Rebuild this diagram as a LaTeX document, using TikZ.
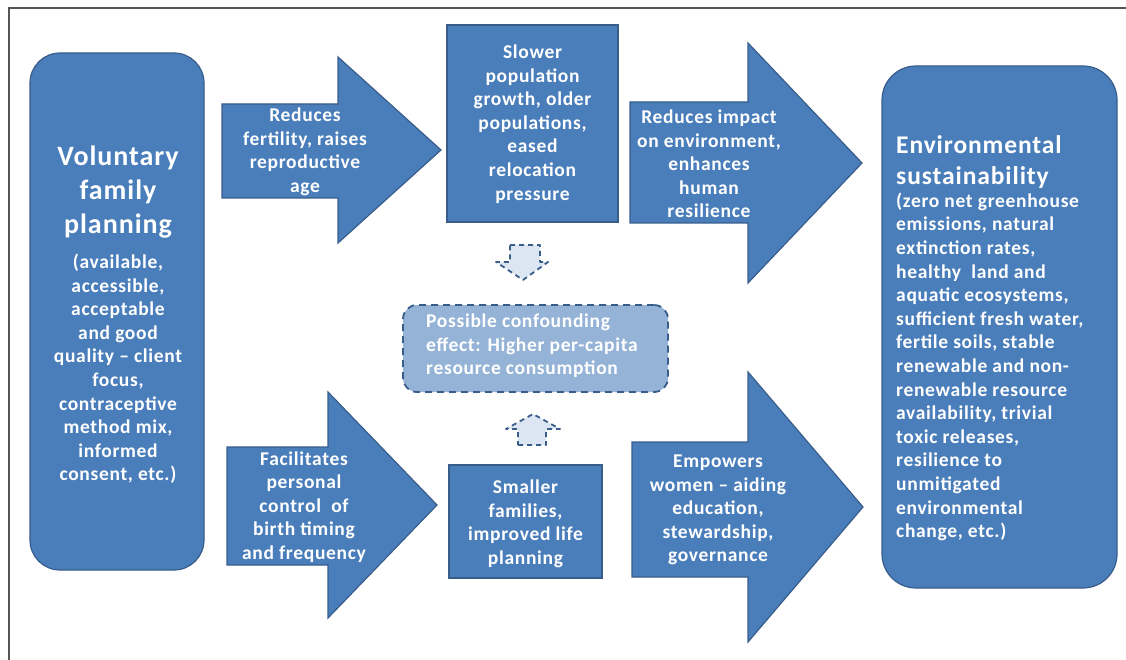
\documentclass[tikz,border=0pt]{standalone}
\usepackage{fontspec}
\setmainfont{Carlito}
\newfontfamily\diagfont[LetterSpace=3.5]{Carlito}
\usetikzlibrary{positioning}
\definecolor{boxblue}{RGB}{74,126,187}
\definecolor{edgeblue}{RGB}{56,93,138}
\definecolor{paleblue}{RGB}{149,179,215}
\definecolor{ghostblue}{RGB}{220,230,242}
\definecolor{framegray}{RGB}{85,85,85}
\tikzset{
  shapefill/.style={fill=boxblue, draw=edgeblue, line width=1.2pt},
  txt/.style={text=white, font=\diagfont\bfseries\fontsize{19.5}{23.6}\selectfont, align=center, inner sep=0pt},
  txtl/.style={text=white, font=\diagfont\bfseries\fontsize{19.5}{23.6}\selectfont, align=left, inner sep=0pt},
  bigtxt/.style={text=white, font=\diagfont\bfseries\fontsize{28}{34}\selectfont, align=center, inner sep=0pt},
  bigtxtl/.style={text=white, font=\diagfont\bfseries\fontsize{25.5}{31}\selectfont, align=left, inner sep=0pt},
  dashbox/.style={fill=paleblue, draw=edgeblue, line width=1.8pt, dash pattern=on 7pt off 5pt},
  ghost/.style={fill=ghostblue, draw=edgeblue, line width=1.8pt, dash pattern=on 5pt off 4pt, line join=round}
}
\begin{document}
\begin{tikzpicture}[x=1pt,y=-1pt]
\useasboundingbox (0,0) rectangle (1126,660);
% frame
\draw[framegray, line width=1.5pt] (9,660) -- (9,8) -- (1126,8);

% left rounded box
\node[shapefill, rounded corners=30pt, minimum width=174pt, minimum height=517pt, inner sep=0pt] (vfp) at (117,311.5) {};
\node[bigtxt] (vfpT) at (118,192) {Voluntary\\family\\planning};
\node[txt] (vfpB) at (118,369) {(available,\\accessible,\\acceptable\\and good\\quality – client\\focus,\\contraceptive\\method mix,\\informed\\consent, etc.)};

% right rounded box
\node[shapefill, rounded corners=34pt, minimum width=235pt, minimum height=522pt, inner sep=0pt] (env) at (999.5,327) {};
\node[bigtxtl, anchor=west] (envT) at (896,162) {Environmental\\sustainability};
\node[txtl, anchor=west] (envB) at (896,367) {(zero net greenhouse\\emissions, natural\\extinction rates,\\healthy~ land and\\aquatic ecosystems,\\sufficient fresh water,\\fertile soils, stable\\renewable and non-\\renewable resource\\availability, trivial\\toxic releases,\\resilience to\\unmitigated\\environmental\\change, etc.)};

% top-left arrow
\draw[shapefill] (222,104) -- (338,104) -- (338,57) -- (441,150) -- (338,243) -- (338,198) -- (222,198) -- cycle;
\node[txt] (a1) at (305,152) {Reduces\\fertility, raises\\reproductive\\age};

% top middle rectangle
\node[shapefill, minimum width=171pt, minimum height=197pt, inner sep=0pt] (slow) at (532.5,123.5) {};
\node[txt] (slowT) at (532.5,124) {Slower\\population\\growth, older\\populations,\\eased\\relocation\\pressure};

% top-right arrow
\draw[shapefill] (630,102) -- (748,102) -- (748,43) -- (862,163) -- (748,283) -- (748,223) -- (630,223) -- cycle;
\node[txt] (a2) at (709,164) {Reduces impact\\on environment,\\enhances\\human\\resilience};

% small dashed arrows
\draw[ghost] (510,245) -- (540,245) -- (540,262) -- (548,262) -- (523,280) -- (496,262) -- (510,262) -- cycle;
\draw[ghost] (518,445) -- (546,445) -- (546,429) -- (560,429) -- (533,414) -- (506,429) -- (518,429) -- cycle;

% confounding box
\node[dashbox, rounded corners=14pt, minimum width=265pt, minimum height=87pt, inner sep=0pt] (conf) at (535.5,348.5) {};
\node[txtl, anchor=west] (confT) at (426,346) {Possible confounding\\effect: Higher per-capita\\resource consumption};

% bottom-left arrow
\draw[shapefill] (227,447) -- (328,447) -- (328,392) -- (437,505) -- (328,618) -- (328,565) -- (227,565) -- cycle;
\node[txt] (a3) at (304,507) {Facilitates\\personal\\control~ of\\birth timing\\and frequency};

% bottom middle rectangle
\node[shapefill, minimum width=153pt, minimum height=113pt, inner sep=0pt] (small) at (525.5,521.5) {};
\node[txt] (smallT) at (525.5,524) {Smaller\\families,\\improved life\\planning};

% bottom-right arrow
\draw[shapefill] (632,442) -- (748,442) -- (748,372) -- (863,507) -- (748,642) -- (748,577) -- (632,577) -- cycle;
\node[txt] (a4) at (718,510) {Empowers\\women – aiding\\education,\\stewardship,\\governance};
\end{tikzpicture}
\end{document}
